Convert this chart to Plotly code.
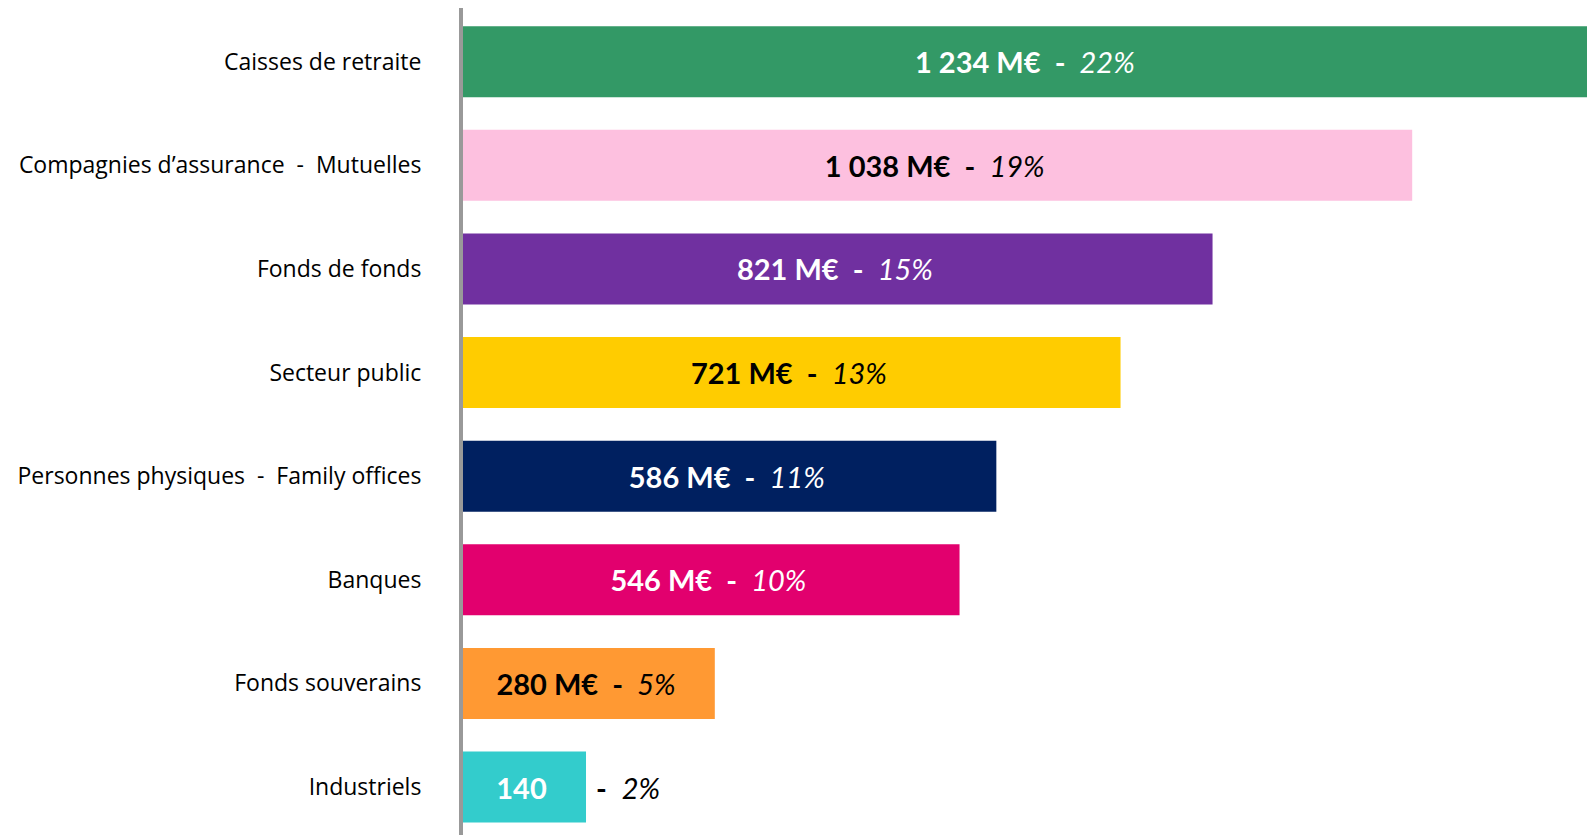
import plotly.graph_objects as go

NB = "\u00a0"
categories = [
    "Caisses de retraite",
    f"Compagnies d’assurance{NB}{NB}-{NB}{NB}Mutuelles",
    "Fonds de fonds",
    "Secteur public",
    f"Personnes physiques{NB}{NB}-{NB}{NB}Family offices",
    "Banques",
    "Fonds souverains",
    "Industriels",
]
values = [1234, 1038, 821, 721, 586, 546, 280, 140]
value_labels = ["1 234 M€", "1 038 M€", "821 M€", "721 M€", "586 M€", "546 M€", "280 M€", "140"]
percents = ["22%", "19%", "15%", "13%", "11%", "10%", "5%", "2%"]
bar_colors = ["#339966", "#FDC0DF", "#7030A0", "#FFCC00", "#002060", "#E2006E", "#FF9933", "#33CCCC"]
text_colors = ["white", "black", "white", "black", "white", "white", "black", "white"]

bar_font = "Lato, 'Open Sans', sans-serif"
label_font = "'Open Sans', Lato, sans-serif"

texts = []
for i, (v, p) in enumerate(zip(value_labels, percents)):
    if i == len(values) - 1:
        texts.append(f"<b>{v}</b>")
    else:
        texts.append(f"<b>{v.replace(' ', NB)}{NB}{NB}-{NB}{NB}</b><i>{p}</i>")

fig = go.Figure()
fig.add_trace(go.Bar(
    y=categories,
    x=values,
    orientation="h",
    marker=dict(color=bar_colors, line=dict(width=0)),
    text=texts,
    textposition="inside",
    insidetextanchor="middle",
    textangle=0,
    textfont=dict(color=text_colors, size=29, family=bar_font),
    constraintext="none",
    hoverinfo="skip",
))

# outside part of the last label
fig.add_annotation(
    x=values[-1], y=categories[-1],
    xref="x", yref="y",
    text=f"<b>-</b>{NB}{NB}<i>{percents[-1]}</i>",
    showarrow=False,
    xanchor="left",
    xshift=8,
    font=dict(size=29, color="black", family=bar_font),
)

fig.update_layout(
    width=1587,
    height=835,
    margin=dict(l=463, r=0, t=8, b=0),
    paper_bgcolor="white",
    plot_bgcolor="white",
    bargap=0.315,
    showlegend=False,
    font=dict(family=label_font, size=23, color="black"),
)
fig.update_xaxes(
    range=[6.3, 1228],
    showgrid=False,
    zeroline=False,
    showticklabels=False,
    showline=False,
)
fig.update_yaxes(
    range=[7.463, -0.518],
    showgrid=False,
    zeroline=False,
    showline=True,
    linecolor="#999999",
    linewidth=4,
    ticks="",
    ticklabelstandoff=33,
    tickfont=dict(size=23, color="black", family=label_font),
)

fig.write_html("out.html", config={"displayModeBar": False},
               post_script="document.body.style.margin='0';")
